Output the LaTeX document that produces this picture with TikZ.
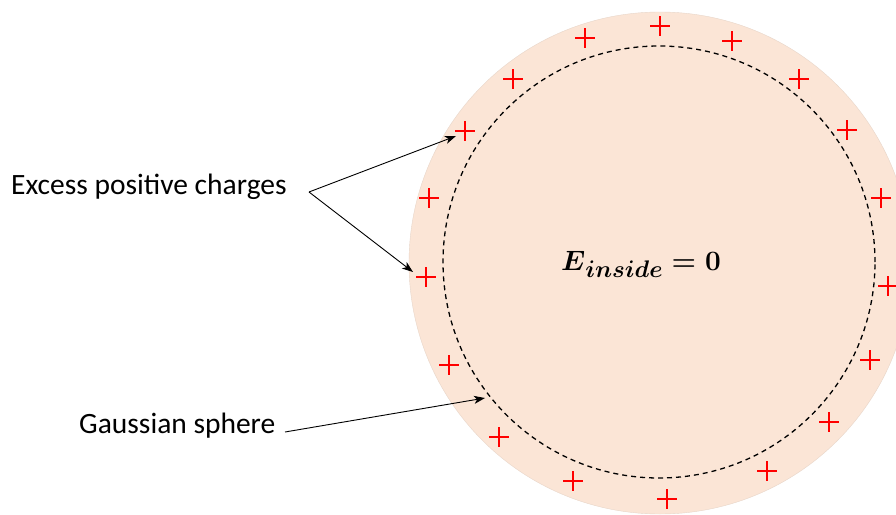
\RequirePackage{fix-cm}
\documentclass[tikz,border=0pt]{standalone}
\usepackage{fontspec}
\setmainfont{Carlito}
\usetikzlibrary{arrows.meta}
\definecolor{shell}{HTML}{FBE5D6}
\definecolor{chargered}{HTML}{FF0000}
\tikzset{
  label text/.style={font=\fontsize{29.5}{34}\selectfont, inner sep=0pt},
  field text/.style={font=\fontsize{28}{32}\selectfont\boldmath, inner sep=0pt},
  pointer/.style={line width=0.9pt, -{Stealth[length=11pt,width=8pt,inset=3pt]}},
  charge/.style={draw=chargered, line width=2.3pt},
  gauss/.style={draw=black, line width=1.3pt, dash pattern=on 5pt off 4pt},
}
\newcommand{\fieldsub}[1]{\raisebox{-7pt}{\fontsize{24}{28}\selectfont$#1$}}
\begin{document}
\begin{tikzpicture}[x=1pt,y=-1pt]
  \clip (0,0) rectangle (896,514);
  \fill[white] (0,0) rectangle (896,514);

  % charged conducting sphere and the Gaussian surface inside it
  \node[circle, fill=shell, draw=shell!85!gray, line width=0.4pt, minimum size=502pt, inner sep=0pt] (sphere) at (660,263) {};
  \node[circle, gauss, minimum size=432pt, inner sep=0pt] (gsurf) at (659,262) {};

  % surface charges
  \foreach \px/\py in {660/26,585/38,732/41,513/79,799/79,465/131,847/130,429/198,881/198,426/277,888/286,449/365,870/360,499/437,829/422,573/481,767/471,667/499}
    \draw[charge] (\px,\py) ++(-10,0) -- ++(20,0) ++(-10,-10) -- ++(0,20);

  % field inside
  \node[field text, anchor=base west] (field) at (561,270) {$E\fieldsub{inside}=0$};

  % labels
  \node[label text, anchor=west] (excess) at (11,187) {Excess positive charges};
  \node[label text, anchor=west] (gausslabel) at (79,426) {Gaussian sphere};

  \coordinate (split) at (309,192);
  \coordinate (tipA) at (456,136);
  \coordinate (tipB) at (413,272);
  \coordinate (gstart) at (285,432);
  \coordinate (tipC) at (485,398);

  \draw[pointer] (split) -- (tipA);
  \draw[pointer] (split) -- (tipB);
  \draw[pointer] (gstart) -- (tipC);
\end{tikzpicture}
\end{document}
